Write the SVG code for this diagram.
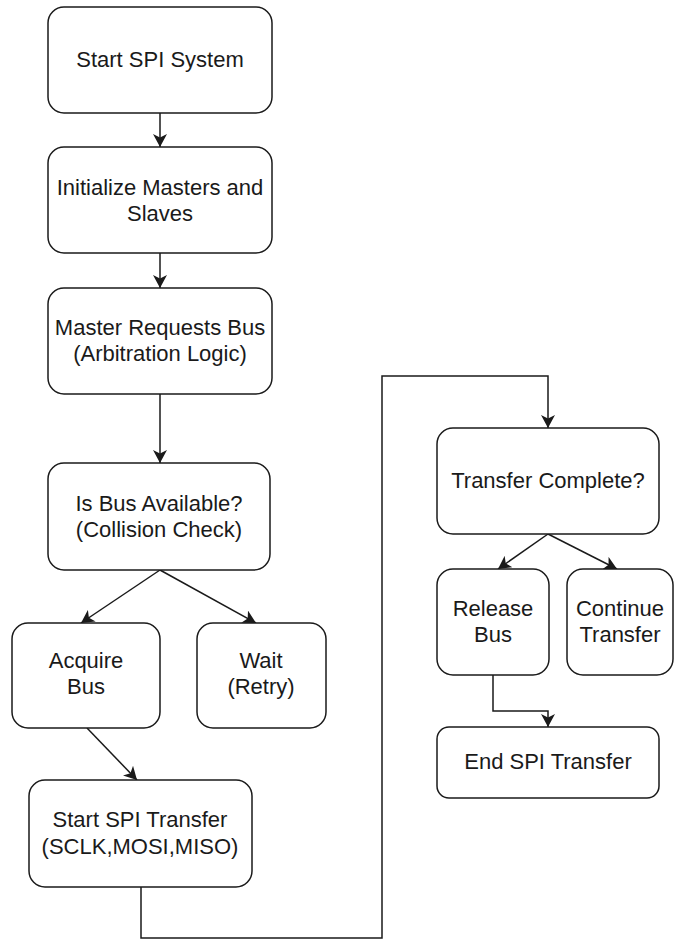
<svg xmlns="http://www.w3.org/2000/svg" width="674" height="940" viewBox="0 0 674 940">
  <style>
    .box { fill: #ffffff; stroke: #1a1a1a; stroke-width: 1.5; }
    .lbl { font-family: "Liberation Sans", Arial, sans-serif; font-size: 22px; fill: #1a1a1a; text-anchor: middle; }
    .edge { fill: none; stroke: #1a1a1a; stroke-width: 1.5; marker-end: url(#arrow); }
  </style>
  <defs>
    <marker id="arrow" viewBox="0 0 13 14" refX="13" refY="7" markerWidth="13" markerHeight="14" markerUnits="userSpaceOnUse" orient="auto">
      <path d="M0,0 L13,7 L0,14 L3.5,7 Z" fill="#1a1a1a"/>
    </marker>
  </defs>
  <rect width="674" height="940" fill="#ffffff"/>

  <g id="connectors">
    <path class="edge" d="M160,113 V147"/>
    <path class="edge" d="M160,253 V288"/>
    <path class="edge" d="M160,394 V463"/>
    <path class="edge" d="M160,570 L81,623"/>
    <path class="edge" d="M160,570 L256,623"/>
    <path class="edge" d="M87,728 L137,780"/>
    <path class="edge" d="M141,887 V938 H382 V376 H548 V428"/>
    <path class="edge" d="M548,534 L498,569"/>
    <path class="edge" d="M548,534 L617,569"/>
    <path class="edge" d="M493,675 V711 H548 V727"/>
  </g>

  <g id="start-spi-system">
    <rect class="box" x="48" y="7" width="224" height="106" rx="16"/>
    <text class="lbl" x="160" y="67">Start SPI System</text>
  </g>
  <g id="init-masters-slaves">
    <rect class="box" x="48" y="147" width="224" height="106" rx="16"/>
    <text class="lbl" x="160" y="195">Initialize Masters and</text>
    <text class="lbl" x="160" y="221">Slaves</text>
  </g>
  <g id="master-requests-bus">
    <rect class="box" x="48" y="288" width="224" height="106" rx="16"/>
    <text class="lbl" x="160" y="335">Master Requests Bus</text>
    <text class="lbl" x="160" y="361">(Arbitration Logic)</text>
  </g>
  <g id="bus-available">
    <rect class="box" x="48" y="463" width="222" height="107" rx="16"/>
    <text class="lbl" x="159" y="511">Is Bus Available?</text>
    <text class="lbl" x="159" y="537">(Collision Check)</text>
  </g>
  <g id="acquire-bus">
    <rect class="box" x="12" y="623" width="148" height="105" rx="16"/>
    <text class="lbl" x="86" y="668">Acquire</text>
    <text class="lbl" x="86" y="694">Bus</text>
  </g>
  <g id="wait-retry">
    <rect class="box" x="197" y="623" width="129" height="105" rx="16"/>
    <text class="lbl" x="261" y="668">Wait</text>
    <text class="lbl" x="261" y="694">(Retry)</text>
  </g>
  <g id="start-spi-transfer">
    <rect class="box" x="29" y="780" width="223" height="107" rx="16"/>
    <text class="lbl" x="140" y="827">Start SPI Transfer</text>
    <text class="lbl" x="140" y="854">(SCLK,MOSI,MISO)</text>
  </g>
  <g id="transfer-complete">
    <rect class="box" x="437" y="428" width="222" height="106" rx="16"/>
    <text class="lbl" x="548" y="488">Transfer Complete?</text>
  </g>
  <g id="release-bus">
    <rect class="box" x="437" y="569" width="112" height="106" rx="16"/>
    <text class="lbl" x="493" y="616">Release</text>
    <text class="lbl" x="493" y="642">Bus</text>
  </g>
  <g id="continue-transfer">
    <rect class="box" x="567" y="569" width="106" height="106" rx="16"/>
    <text class="lbl" x="620" y="616">Continue</text>
    <text class="lbl" x="620" y="642">Transfer</text>
  </g>
  <g id="end-spi-transfer">
    <rect class="box" x="437" y="727" width="222" height="71" rx="12"/>
    <text class="lbl" x="548" y="769">End SPI Transfer</text>
  </g>
</svg>
